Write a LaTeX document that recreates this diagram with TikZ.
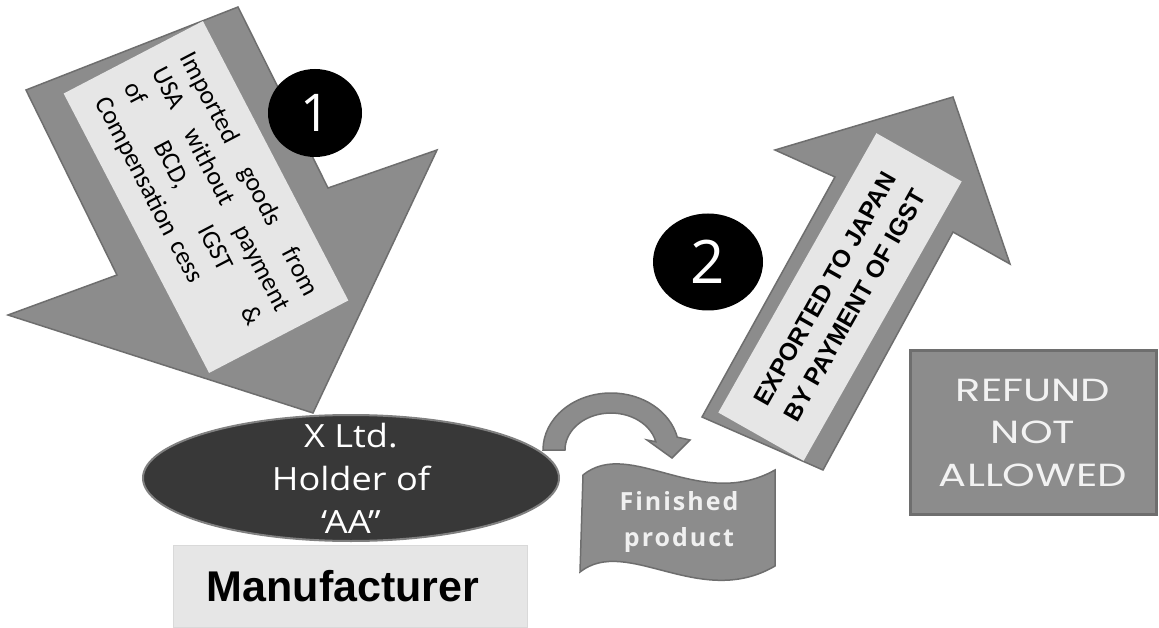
\documentclass[tikz,border=0pt]{standalone}
\usepackage{fontspec}
\usepackage{tikz}
\usetikzlibrary{shapes.geometric}
\setmainfont{Carlito}
\newfontfamily\arialfont{Liberation Sans}
\newfontfamily\openfont[FakeStretch=1.13]{Open Sans}
\newfontfamily\digitfont{Open Sans}
\newfontfamily\gothfont[FakeStretch=1.3]{Poppins}
\definecolor{arrowgray}{HTML}{8C8C8C}
\definecolor{edgegray}{HTML}{6E6E6E}
\definecolor{boxgray}{HTML}{E6E6E6}
\definecolor{darkfill}{HTML}{383838}

\begin{document}
\begin{tikzpicture}[x=1pt, y=-1pt,
    bigarrow/.style={fill=arrowgray, draw=edgegray, line width=1.5pt, line join=miter},
    lightbox/.style={rectangle, fill=boxgray, inner sep=0pt},
    stepdot/.style={ellipse, fill=black, text=white, inner sep=0pt, font=\digitfont},
    holder/.style={ellipse, fill=darkfill, draw=gray, line width=2pt, minimum width=416pt, minimum height=126pt},
    holdertext/.style={text=white, align=center, font=\openfont\fontsize{32}{43}\selectfont},
    makerbox/.style={rectangle, fill=boxgray, draw=gray!30, line width=1pt, minimum width=354pt, minimum height=82pt, font=\arialfont\bfseries\fontsize{43}{50}\selectfont},
    refundbox/.style={rectangle, fill=arrowgray, draw=edgegray, line width=3pt, minimum width=246pt, minimum height=164pt, align=center, text=white!95!black, font=\gothfont\fontsize{32}{42.5}\selectfont},
    wavebox/.style={fill=arrowgray, draw=edgegray, line width=1.5pt}
  ]
    \useasboundingbox[fill=white] (0,0) rectangle (1159,628);

    \draw[bigarrow] (238,7) -- (328,188) -- (437,150) -- (313,413) -- (8,315) -- (117,275) -- (26,90) -- cycle;
    \node[lightbox, rotate=-62.5, minimum width=315pt, minimum height=157pt, text width=271pt, align=left, font=\fontsize{26}{32}\selectfont] (importtext) at (206,197) {Imported\hfill goods\hfill from\\USA\hfill without\hfill payment\\of\hfill BCD,\hfill IGST\hfill \&\\Compensation cess};
    \node[stepdot, minimum width=94pt, minimum height=88pt, font=\digitfont\fontsize{52}{52}\selectfont] (stepone) at (315,113) {1};

    \draw[bigarrow] (702,417) -- (835,177) -- (775,150) -- (953,97) -- (1010,264) -- (953,232) -- (823,470) -- cycle;
    \node[lightbox, rotate=60.5, minimum width=321pt, minimum height=98pt, align=center, font=\arialfont\bfseries\fontsize{24.5}{34}\selectfont] (exporttext) at (840,297) {EXPORTED TO JAPAN\\BY PAYMENT OF IGST};
    \node[stepdot, minimum width=110pt, minimum height=97pt, font=\digitfont\fontsize{60}{60}\selectfont] (steptwo) at (708,262) {2};

    \node[holder] (holder) at (351,478) {};
    \node[holdertext] (holdername) at (holder.center) {X Ltd.\\Holder of\\‘AA”};
    \node[makerbox] (maker) at (350,586) {Manufacturer\hspace*{14pt}};

    \coordinate (turn) at (611,450);
    \draw[wavebox, shift={(turn)}] (-68,0) arc[start angle=180, end angle=347, x radius=68, y radius=57]
      -- (79,-10) -- (61,8) -- (36,-10) -- (44.8,-8.3)
      arc[start angle=347, end angle=180, x radius=46, y radius=37] -- cycle;

    \draw[wavebox] (583,475) .. controls (630,437) and (700,512) .. (775,470) -- (775,566) .. controls (700,610) and (627,535) .. (580,572) -- cycle;
    \node[text=white!94!black, align=center, font=\digitfont\bfseries\fontsize{25}{36}\selectfont\addfontfeature{LetterSpace=8}] (product) at (679,522) {Finished\\product};

    \node[refundbox] (refund) at (1033,432.5) {REFUND\\NOT\\ALLOWED};
\end{tikzpicture}
\end{document}
